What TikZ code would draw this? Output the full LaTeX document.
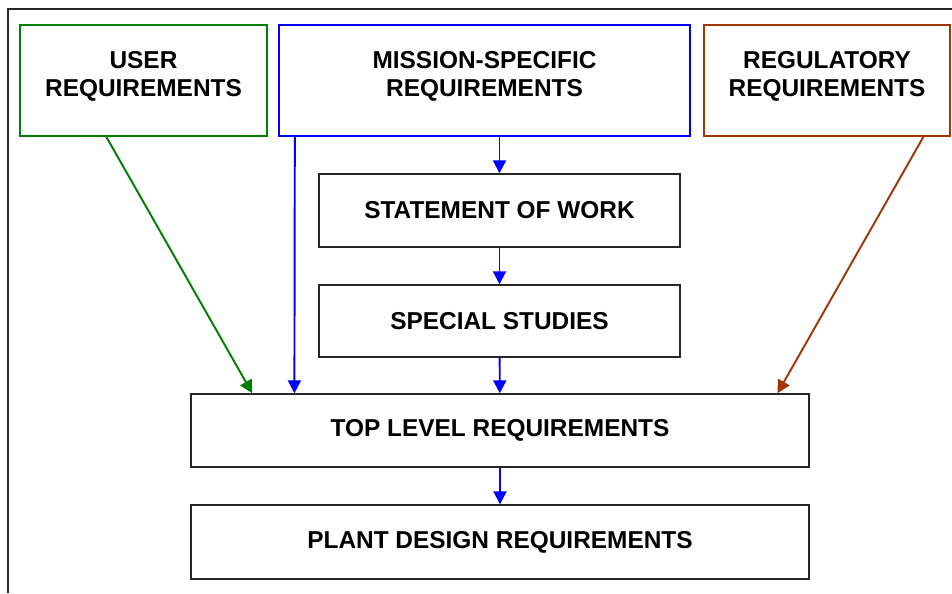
\documentclass[tikz,border=0pt]{standalone}
\usepackage{fontspec}
\setmainfont{Liberation Sans}
\usetikzlibrary{arrows.meta,calc}
\definecolor{usergreen}{RGB}{0,128,0}
\definecolor{regbrown}{RGB}{160,55,5}
\begin{document}
\begin{tikzpicture}[x=0.02cm,y=-0.02cm,
    box/.style={draw=black!85,line width=0.8pt,fill=white,align=center,
        font=\fontsize{13.9}{15.9}\selectfont\bfseries,inner sep=0pt},
    topbox/.style={box,minimum height=2.22cm,text depth=0.25cm},
    flow/.style={line width=1.1pt,-{Triangle[length=2.6mm,width=2.6mm]}}]
            \useasboundingbox (0,0) rectangle (952,593);
            \draw[black!85,line width=1pt] (8,593) -- (8,9) -- (952,9);
            \node[topbox,draw=usergreen,minimum width=4.94cm] (user) at (143.5,80.5) {USER\\REQUIREMENTS};
            \node[topbox,draw=blue,minimum width=8.22cm] (mission) at (484.5,80.5) {MISSION-SPECIFIC\\REQUIREMENTS};
            \node[topbox,draw=regbrown,minimum width=4.92cm] (reg) at (827,80.5) {REGULATORY\\REQUIREMENTS};
            \node[box,minimum width=7.22cm,minimum height=1.46cm] (sow) at (499.5,210.5) {STATEMENT OF WORK};
            \node[box,minimum width=7.22cm,minimum height=1.44cm] (studies) at (499.5,321) {SPECIAL STUDIES};
            \node[box,minimum width=12.36cm,minimum height=1.46cm] (toplvl) at (500,430.5) {TOP LEVEL REQUIREMENTS};
            \node[box,minimum width=12.36cm,minimum height=1.48cm] (plant) at (500,542) {PLANT DESIGN REQUIREMENTS};
            \draw[flow,usergreen] ($(user.south west)!0.35!(user.south east)$) -- ($(toplvl.north west)!0.1!(toplvl.north east)$);
            \draw[flow,blue] ($(mission.south west)!0.04!(mission.south east)$) -- ($(toplvl.north west)!0.168!(toplvl.north east)$);
            \draw[flow,regbrown] ($(reg.south west)!0.89!(reg.south east)$) -- ($(toplvl.north west)!0.948!(toplvl.north east)$);
            \draw[flow,blue] (mission.south -| sow.north) -- (sow.north);
            \draw[flow,blue] (sow) -- (studies);
            \draw[flow,blue] (studies) -- (toplvl);
            \draw[flow,blue] (toplvl) -- (plant);
        \end{tikzpicture}
\end{document}
